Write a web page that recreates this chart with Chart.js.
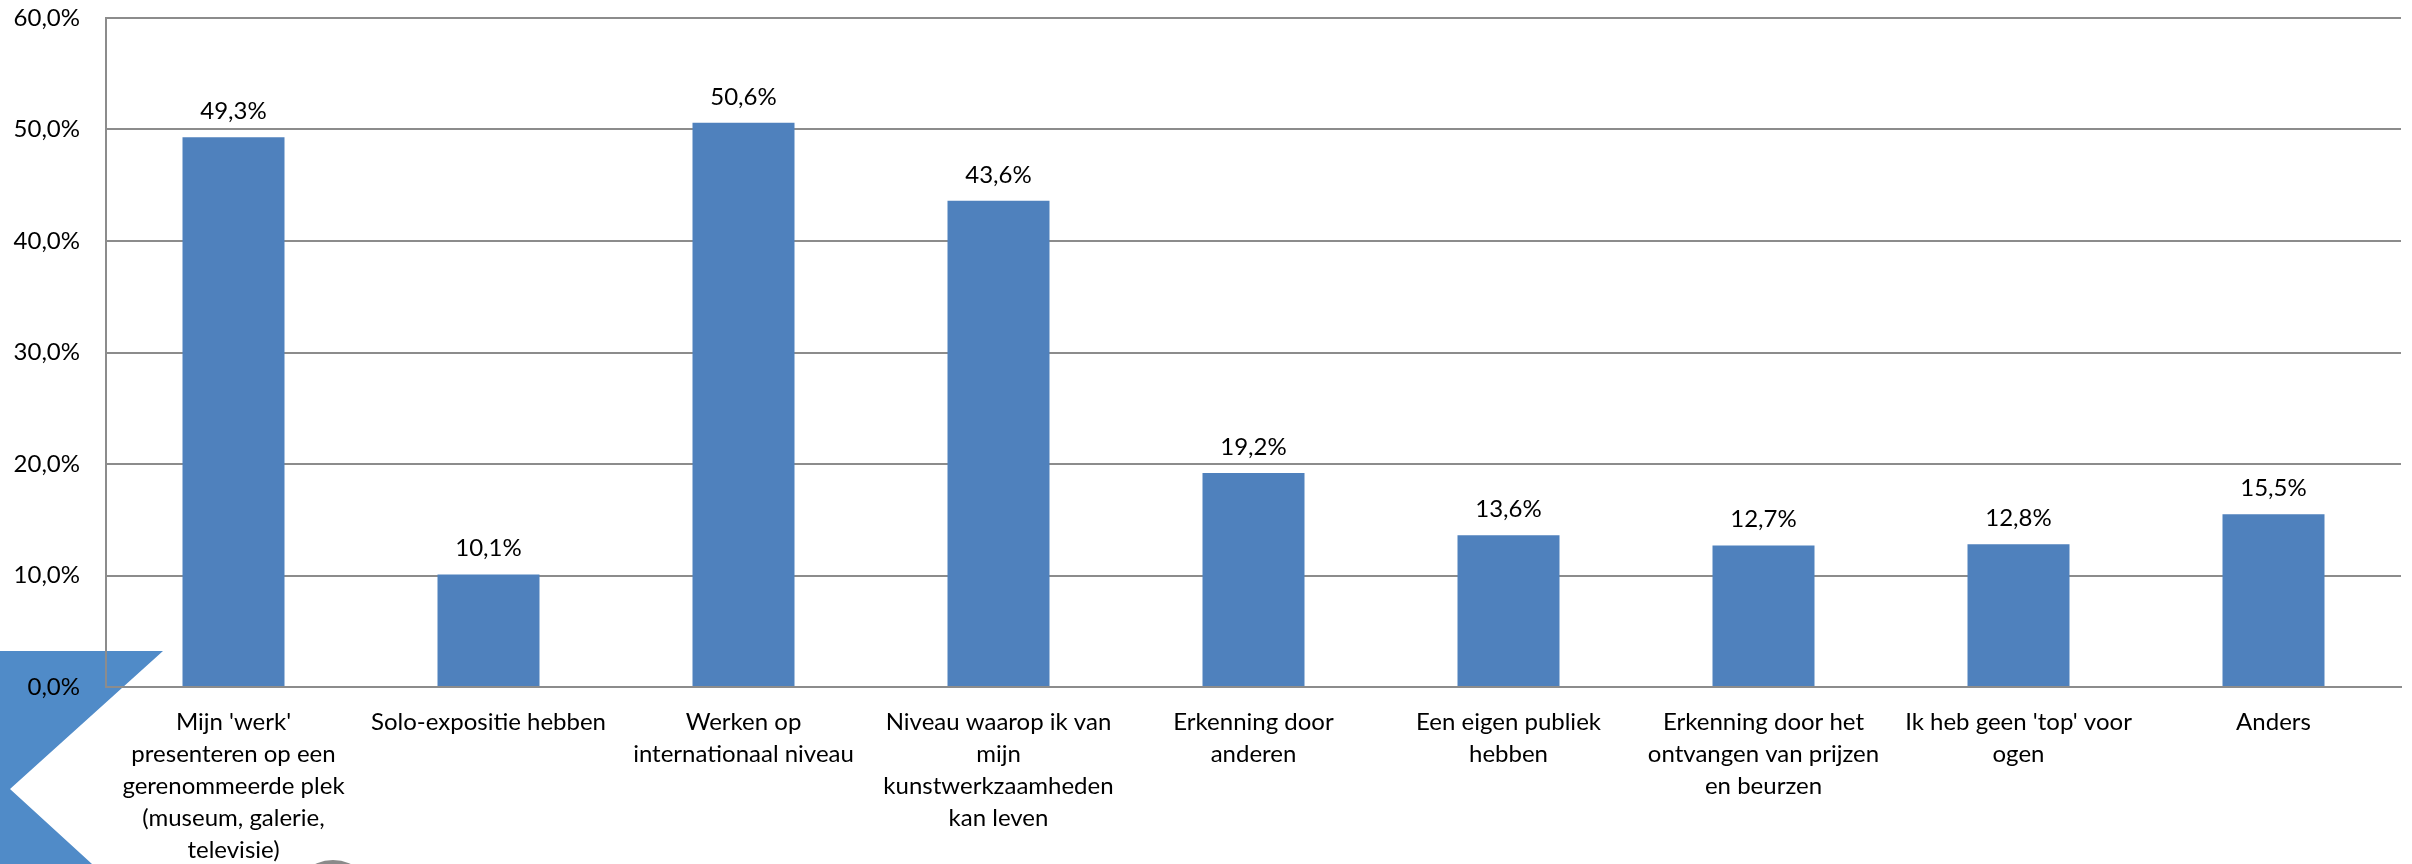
<!DOCTYPE html>
<html lang="nl">

<head>
    <meta charset="UTF-8">
    <title>Top in kunstpraktijk</title>
    <script src="https://cdn.jsdelivr.net/npm/chart.js"></script>
    <style>
        html, body { margin: 0; padding: 0; background: #fff; }
        #wrap { width: 2412px; height: 864px; position: relative; }
    </style>
</head>

<body>
    <div id="wrap">
        <canvas id="barChart" width="2412" height="864"></canvas>
    </div>

    <script>
        // categories (wrapped the way they appear under the bars)
        const categories = [
            ["Mijn 'werk'", "presenteren op een", "gerenommeerde plek", "(museum, galerie,", "televisie)"],
            ["Solo-expositie hebben"],
            ["Werken op", "internationaal niveau"],
            ["Niveau waarop ik van", "mijn", "kunstwerkzaamheden", "kan leven"],
            ["Erkenning door", "anderen"],
            ["Een eigen publiek", "hebben"],
            ["Erkenning door het", "ontvangen van prijzen", "en beurzen"],
            ["Ik heb geen 'top' voor", "ogen"],
            ["Anders"]
        ];
        // percentages
        const values = [49.3, 10.1, 50.6, 43.6, 19.2, 13.6, 12.7, 12.8, 15.5];
        // y axis ticks
        const yTicks = [0, 10, 20, 30, 40, 50, 60];

        const fontFamily = "Lato, 'Noto Sans', sans-serif";
        const pct = v => v.toFixed(1).replace('.', ',') + '%';

        // blue chevron + grey circle in the bottom-left corner (drawn behind the chart)
        const decoration = {
            id: 'decoration',
            beforeDraw(chart) {
                const c = chart.ctx;
                c.save();
                c.fillStyle = '#508BC8';
                c.beginPath();
                c.moveTo(0, 651);
                c.lineTo(163, 651);
                c.lineTo(10, 789);
                c.lineTo(92, 864);
                c.lineTo(0, 864);
                c.closePath();
                c.fill();
                c.fillStyle = '#8a8a8a';
                c.beginPath();
                c.arc(333, 902, 42, 0, Math.PI * 2);
                c.fill();
                c.restore();
            }
        };

        // value labels above bars
        const barLabels = {
            id: 'barLabels',
            afterDatasetsDraw(chart) {
                const c = chart.ctx;
                const meta = chart.getDatasetMeta(0);
                c.save();
                c.font = '24px ' + fontFamily;
                c.fillStyle = '#000';
                c.textAlign = 'center';
                c.textBaseline = 'middle';
                meta.data.forEach((bar, i) => {
                    c.fillText(pct(values[i]), bar.x, bar.y - 26);
                });
                c.restore();
            }
        };

        const ctx = document.getElementById('barChart').getContext('2d');
        new Chart(ctx, {
            type: 'bar',
            data: {
                labels: categories,
                datasets: [{
                    data: values,
                    backgroundColor: '#4F81BD',
                    categoryPercentage: 0.8,
                    barPercentage: 0.5
                }]
            },
            options: {
                responsive: false,
                animation: false,
                layout: { padding: { top: 0, right: 11, left: 0, bottom: 0 } },
                plugins: {
                    legend: { display: false },
                    tooltip: { enabled: false }
                },
                scales: {
                    x: {
                        grid: { display: false, drawTicks: false },
                        border: { color: '#8c8c8c', width: 2 },
                        ticks: {
                            color: '#000',
                            padding: 19,
                            maxRotation: 0,
                            autoSkip: false,
                            font: { family: fontFamily, size: 24, lineHeight: 1.34 }
                        },
                        afterFit(scale) { scale.height = 177; }
                    },
                    y: {
                        min: 0,
                        max: 60,
                        afterBuildTicks(scale) { scale.ticks = yTicks.map(v => ({ value: v })); },
                        grid: { color: '#8c8c8c', lineWidth: 2, drawTicks: false },
                        border: { color: '#8c8c8c', width: 2 },
                        ticks: {
                            color: '#000',
                            padding: 26,
                            font: { family: fontFamily, size: 24 },
                            callback: v => pct(v)
                        },
                        afterFit(scale) {
                            scale.width = 106;
                            scale.paddingTop = 18;
                            scale.paddingBottom = 0;
                        }
                    }
                }
            },
            plugins: [decoration, barLabels]
        });
    </script>
</body>

</html>
